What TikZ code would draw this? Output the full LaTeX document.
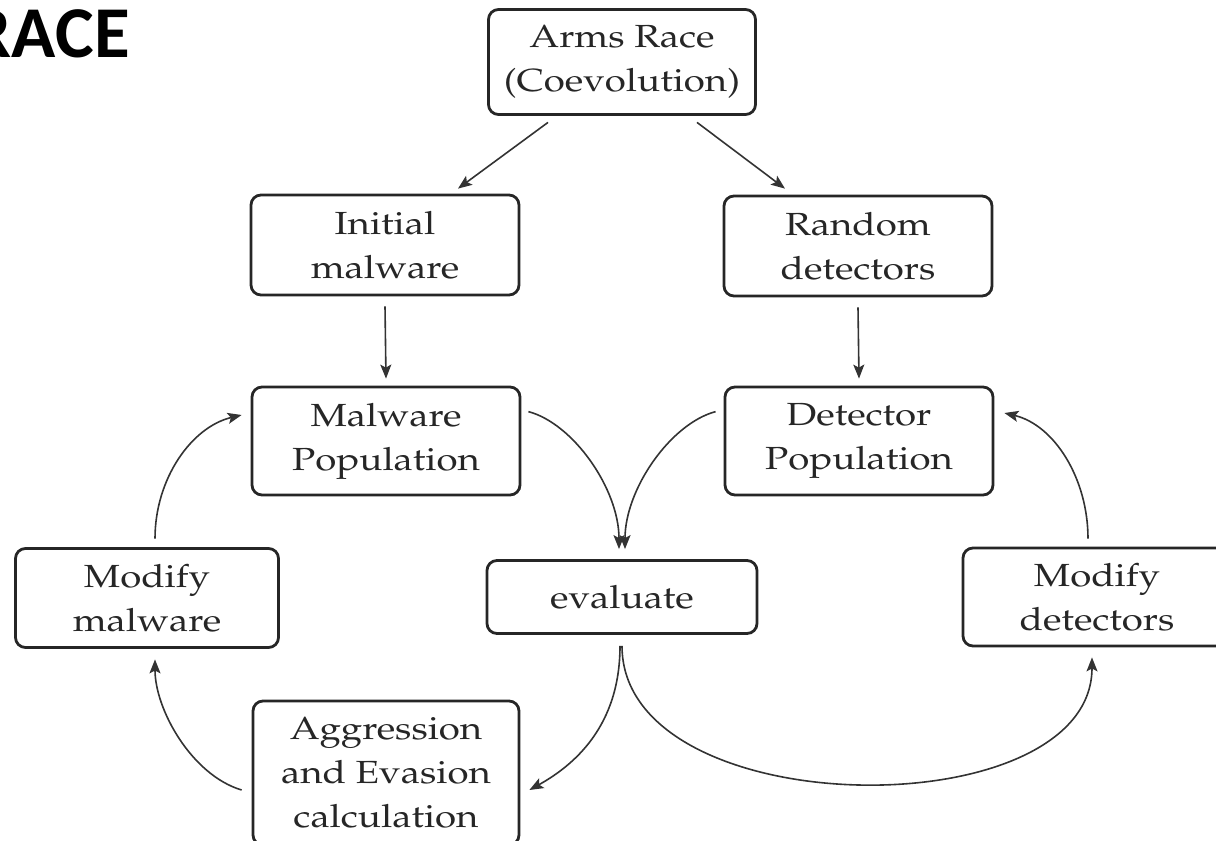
\documentclass[tikz,border=0pt]{standalone}
\usepackage[T1]{fontenc}
\usepackage{fontspec}
\usepackage{graphicx}
\usetikzlibrary{arrows.meta,calc}
\newfontfamily\titlefont{Carlito}
% Palatino-like body face (URW Palladio, Type 1)
\newcommand\palfont{\fontencoding{T1}\fontfamily{ppl}\selectfont}
% slightly widened text lines
\newcommand\wl[1]{\scalebox{1.2}[1]{#1}}

\tikzset{
  box/.style={draw=black!85, line width=1.4pt, rounded corners=5pt,
    align=center, inner sep=0pt, text=black!85,
    font=\palfont\fontsize{16}{22}\selectfont},
  arr/.style={draw=black!80, line width=0.8pt,
    -{Stealth[length=7pt,width=5.5pt,inset=1.5pt]}},
}

\begin{document}
\begin{tikzpicture}[x=0.5pt,y=-0.5pt]
\useasboundingbox (0,0) rectangle (1216,841);

\node[font=\titlefont\bfseries\fontsize{36.5}{40}\selectfont, anchor=base east, inner sep=0pt] (title) at (130,57) {RACE};

\node[box, minimum width=133.5pt, minimum height=52.5pt] (ar) at (622,62) {\wl{Arms Race}\\\wl{(Coevolution)}};
\node[box, minimum width=134pt, minimum height=50pt] (im) at (385,245) {\wl{Initial}\\\wl{malware}};
\node[box, minimum width=134pt, minimum height=50pt] (rd) at (858,246) {\wl{Random}\\\wl{detectors}};
\node[box, minimum width=134pt, minimum height=54pt] (mp) at (386,441) {\wl{Malware}\\\wl{Population}};
\node[box, minimum width=134pt, minimum height=54pt] (dp) at (859,441) {\wl{Detector}\\\wl{Population}};
\node[box, minimum width=131.5pt, minimum height=49.5pt] (mm) at (147,598) {\wl{Modify}\\\wl{malware}};
\node[box, minimum width=135pt, minimum height=36.5pt] (ev) at (622,597) {\wl{evaluate}};
\node[box, minimum width=134pt, minimum height=49pt] (md) at (1097,597) {\wl{Modify}\\\wl{detectors}};
\node[box, minimum width=133pt, minimum height=72pt] (ag) at (386,773) {\wl{Aggression}\\\wl{and Evasion}\\\wl{calculation}};

% straight connectors
\draw[arr] ($(ar.south)+(-74,6.5)$) -- ($(im.north)+(73,-5)$);
\draw[arr] ($(ar.south)+(75,6.5)$) -- ($(rd.north)+(-73,-6)$);
\draw[arr] ($(im.south)+(0,10)$) -- ($(mp.north)+(0,-7)$);
\draw[arr] ($(rd.south)+(0,10)$) -- ($(dp.north)+(0,-7)$);

% both populations feed the evaluation
\draw[arr] ($(mp.north east)+(7,26)$) .. controls +(45,12) and +(0,-60) .. ($(ev.north)+(-3,-10)$);
\draw[arr] ($(dp.north west)+(-8,26)$) .. controls +(-45,12) and +(0,-60) .. ($(ev.north)+(3,-10)$);

% evaluation results
\draw[arr] ($(ev.south)+(-2,11)$) .. controls +(0,80) and +(45,-25) .. ($(ag.east)+(9,17)$);
\draw[arr] ($(ev.south)+(0,11)$) .. controls +(0,180) and +(0,172) .. ($(md.south)+(-5,10)$);

% malware loop
\draw[arr] ($(ag.west)+(-10,17)$) .. controls +(-50,-15) and +(0,50) .. ($(mm.south)+(8,10.5)$);
\draw[arr] ($(mm.north)+(8,-8.5)$) .. controls +(0,-60) and +(-50,12) .. ($(mp.west)+(-9,-26)$);

% detector loop
\draw[arr] ($(md.north)+(-9,-8)$) .. controls +(0,-60) and +(50,12) .. ($(dp.east)+(10,-28)$);
\end{tikzpicture}
\end{document}
